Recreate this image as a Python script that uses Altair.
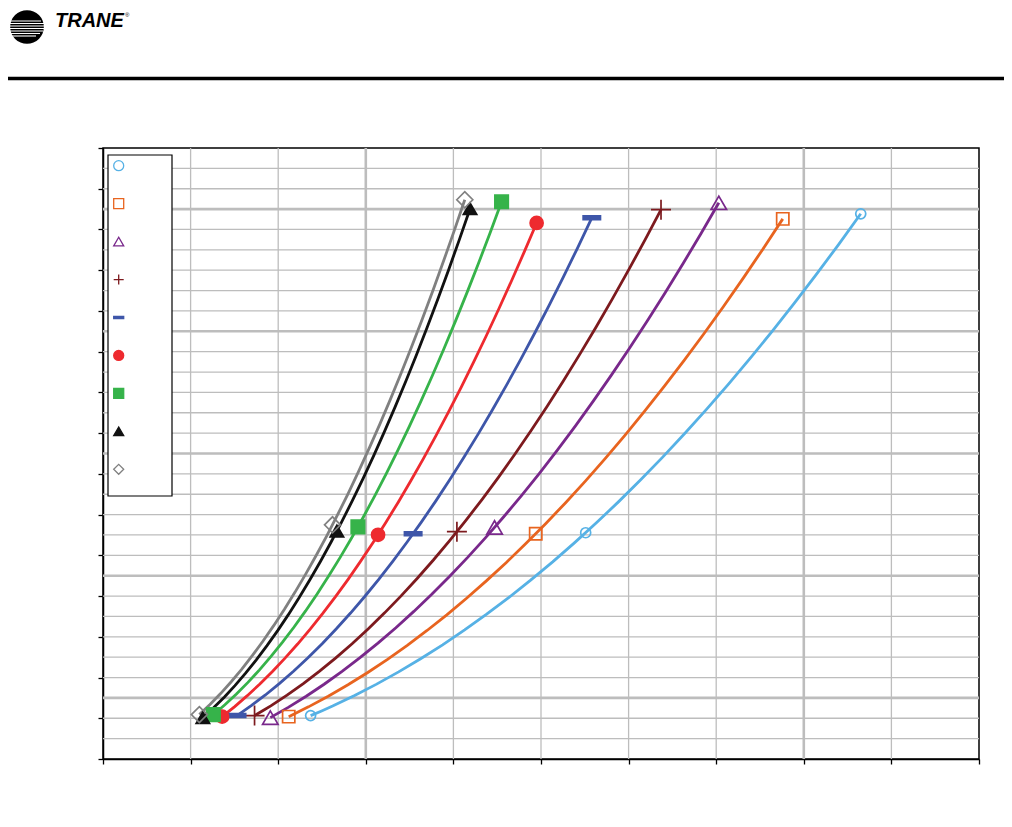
import altair as alt
import pandas as pd

# ---------------- data ----------------
series = ["Series 1", "Series 2", "Series 3", "Series 4", "Series 5",
          "Series 6", "Series 7", "Series 8", "Series 9"]
x_low = [2.37, 2.12, 1.91, 1.73, 1.53, 1.36, 1.26, 1.14, 1.10]
x_mid = [5.51, 4.94, 4.47, 4.04, 3.54, 3.14, 2.91, 2.67, 2.62]
x_high = [8.65, 7.76, 7.03, 6.37, 5.58, 4.95, 4.55, 4.19, 4.13]
y_low = [2.13, 2.08, 2.03, 2.13, 2.13, 2.08, 2.18, 2.03, 2.18]
y_mid = [11.11, 11.06, 11.37, 11.16, 11.06, 11.01, 11.40, 11.19, 11.50]
y_high = [26.77, 26.52, 27.31, 26.97, 26.57, 26.32, 27.36, 27.02, 27.46]

x_ticks = list(range(0, 11))
y_ticks = list(range(0, 31, 2))
x_grid_minor = [1, 2, 4, 5, 6, 7, 9]
x_grid_major = [3, 8]
y_grid_major = [3, 9, 15, 21, 27]
y_grid_minor = [v for v in range(1, 30) if v not in y_grid_major]

# ---------------- styles ----------------
colors = ["#56B1E5", "#E8641F", "#79288B", "#7D1A1E", "#3E56A9",
          "#EE2A2F", "#36B34A", "#111111", "#808080"]
dash = "M-1,-0.22H1V0.22H-1Z"
plus = "M-1,0H1M0,-1V1"
shapes = ["circle", "square", "triangle-up", plus, dash,
          "circle", "square", "triangle-up", "diamond"]
fills = ["transparent", "transparent", "transparent", "transparent", "#3E56A9",
         "#EE2A2F", "#36B34A", "#111111", "transparent"]
sizes = [100, 150, 240, 400, 300, 170, 180, 180, 256]

rows = []
for i, s in enumerate(series):
    for k, (xx, yy) in enumerate([(x_low[i], y_low[i]), (x_mid[i], y_mid[i]),
                                   (x_high[i], y_high[i])]):
        rows.append({"series": s, "order": k, "x": xx, "y": yy})
df = pd.DataFrame(rows)
legend_df = pd.DataFrame({"series": series})

xscale = alt.Scale(domain=[0, 10], nice=False, zero=False)
yscale = alt.Scale(domain=[0, 30], nice=False, zero=False)
xaxis = alt.Axis(values=x_ticks, labels=False, title=None, grid=False,
                 tickSize=5, tickColor="black", tickWidth=1.3,
                 domainColor="black", domainWidth=1.5)
yaxis = alt.Axis(values=y_ticks, labels=False, title=None, grid=False,
                 tickSize=5, tickColor="black", tickWidth=1.3,
                 domainColor="black", domainWidth=1.5)

grid_col = "#BDBDBD"


def vgrid(vals, w):
    return alt.Chart(pd.DataFrame({"v": vals})).mark_rule(
        color=grid_col, strokeWidth=w).encode(
        x=alt.X("v:Q", scale=xscale, axis=xaxis))


def hgrid(vals, w):
    return alt.Chart(pd.DataFrame({"v": vals})).mark_rule(
        color=grid_col, strokeWidth=w).encode(
        y=alt.Y("v:Q", scale=yscale, axis=None))


shape_enc = alt.Shape("series:N", scale=alt.Scale(domain=series, range=shapes), legend=None)
fill_enc = alt.Fill("series:N", scale=alt.Scale(domain=series, range=fills), legend=None)
stroke_enc = alt.Stroke("series:N", scale=alt.Scale(domain=series, range=colors), legend=None)

# smooth (2nd order polynomial trend) curve through each series' three points
lines = alt.Chart(df).transform_regression(
    "x", "y", groupby=["series"], method="poly", order=2
).mark_line(strokeWidth=2.8).encode(
    x=alt.X("x:Q", scale=xscale, axis=xaxis),
    y=alt.Y("y:Q", scale=yscale, axis=yaxis),
    color=alt.Color("series:N", scale=alt.Scale(domain=series, range=colors), legend=None),
)

points = alt.Chart(df).mark_point(filled=True, opacity=1, strokeWidth=1.7).encode(
    x=alt.X("x:Q", scale=xscale, axis=xaxis),
    y=alt.Y("y:Q", scale=yscale, axis=None),
    shape=shape_enc, fill=fill_enc, stroke=stroke_enc,
    size=alt.Size("series:N", scale=alt.Scale(type="ordinal", domain=series, range=sizes),
                  legend=None),
)

one = alt.Data(values=[{"a": 1}])

legend_box = alt.Chart(one).mark_rect(fill="white", stroke="black", strokeWidth=1.2).encode(
    x=alt.value(5), x2=alt.value(69), y=alt.value(7), y2=alt.value(348))

legend_pts = alt.Chart(legend_df).mark_point(filled=True, opacity=1, size=100, strokeWidth=1.3).encode(
    x=alt.value(15.7),
    y=alt.Y("series:N", scale=alt.Scale(domain=series, range=[17.7, 321.3], padding=0), axis=None),
    shape=shape_enc, fill=fill_enc, stroke=stroke_enc,
)

# ---------------- header (logo + rule) ----------------
header_rule = alt.Chart(one).mark_rule(color="black", strokeWidth=3.5).encode(
    x=alt.value(-95), x2=alt.value(901), y=alt.value(-69.5))
logo_circle = alt.Chart(one).mark_point(shape="circle", filled=True, color="black",
                                        opacity=1, size=1134).encode(
    x=alt.value(-76), y=alt.value(-121))
stripe_y = [-127, -124.5, -122, -119.5, -117, -114.5, -112]
stripe_x1 = [-96, -96, -96, -96, -96, -96, -96]
stripe_x2 = [-62, -59, -58, -58, -60, -63, -67]
stripes = [alt.Chart(one).mark_rule(color="white", strokeWidth=1.1).encode(
    x=alt.value(a), x2=alt.value(b), y=alt.value(c))
    for a, b, c in zip(stripe_x1, stripe_x2, stripe_y)]
logo_text = alt.Chart(one).mark_text(text="TRANE", font="Liberation Sans", fontSize=20,
                                     fontWeight="bold", fontStyle="italic", align="left",
                                     baseline="alphabetic", color="black").encode(
    x=alt.value(-48), y=alt.value(-121))
logo_reg = alt.Chart(one).mark_text(text="®", font="Liberation Sans", fontSize=6,
                                    align="left", baseline="alphabetic", color="black").encode(
    x=alt.value(22), y=alt.value(-131))

chart = alt.layer(
    vgrid(x_grid_minor, 1.3), vgrid(x_grid_major, 2.6),
    hgrid(y_grid_minor, 1.3), hgrid(y_grid_major, 2.6),
    legend_box, lines, points, legend_pts,
    header_rule, logo_circle, *stripes, logo_text, logo_reg,
).resolve_scale(y="independent").properties(
    width=876, height=611,
    autosize=alt.AutoSizeParams(type="none"),
    padding={"left": 95, "top": 140, "right": 25, "bottom": 50},
).configure_view(stroke="black", strokeWidth=1.5)

chart.save("out.html", embed_options={"renderer": "svg", "actions": False})
